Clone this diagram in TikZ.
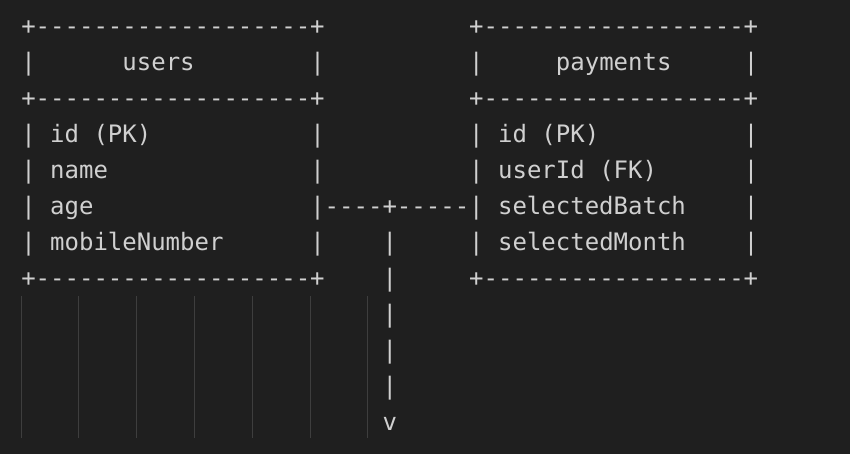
\documentclass[tikz,border=0pt]{standalone}
\usepackage{fontspec}
\setmonofont{DejaVu Sans Mono}
\usepackage{tikz}
\usetikzlibrary{positioning}
\definecolor{editorbg}{HTML}{1F1F1F}
\definecolor{asciifg}{HTML}{D0D0D0}
\definecolor{guidegray}{HTML}{3E3E3E}
\begin{document}
\begin{tikzpicture}[x=0.75pt,y=-0.75pt]
                \tikzstyle{ascii}=[anchor=base west, inner sep=0pt, text=asciifg, font=\ttfamily\fontsize{18}{18}\selectfont]
                \fill [editorbg] (0,0) rectangle (850,454);
                \useasboundingbox (0,0) rectangle (850,454);
                % indent guides
                \foreach \gx in {21,78.8,136.6,194.4,252.2,310,367.8}
                    \draw [guidegray, line width=0.75pt] (\gx,296) -- (\gx,438);
                % users table
                \node [ascii] (usersTop) at (21,34) {+-------------------+};
                \node [ascii] (usersL1) at (21,70) {|};
                \node [ascii] (usersName) at (122.15,70) {users};
                \node [ascii] (usersR1) at (310,70) {|};
                \node [ascii] (usersMid) at (21,106) {+-------------------+};
                \node [ascii] (usersId) at (21,142) {| id (PK)};
                \node [ascii] (usersR3) at (310,142) {|};
                \node [ascii] (usersNm) at (21,178) {| name};
                \node [ascii] (usersR4) at (310,178) {|};
                \node [ascii] (usersAge) at (21,214) {| age};
                \node [ascii] (usersMob) at (21,250) {| mobileNumber};
                \node [ascii] (usersR6) at (310,250) {|};
                \node [ascii] (usersBot) at (21,286) {+-------------------+};
                % payments table
                \node [ascii] (payTop) at (468.95,34) {+------------------+};
                \node [ascii] (payL1) at (468.95,70) {|};
                \node [ascii] (payName) at (555.65,70) {payments};
                \node [ascii] (payR1) at (743.5,70) {|};
                \node [ascii] (payMid) at (468.95,106) {+------------------+};
                \node [ascii] (payId) at (468.95,142) {| id (PK)};
                \node [ascii] (payR3) at (743.5,142) {|};
                \node [ascii] (payUser) at (468.95,178) {| userId (FK)};
                \node [ascii] (payR4) at (743.5,178) {|};
                \node [ascii] (payR5) at (743.5,214) {|};
                \node [ascii] (payMonth) at (468.95,250) {| selectedMonth};
                \node [ascii] (payR6) at (743.5,250) {|};
                \node [ascii] (payBot) at (468.95,286) {+------------------+};
                % link and arrow
                \node [ascii] (link) at (310,214) {|----+-----| selectedBatch};
                \node [ascii] (arrow1) at (382.25,250) {|};
                \node [ascii] (arrow2) at (382.25,286) {|};
                \node [ascii] (arrow3) at (382.25,322) {|};
                \node [ascii] (arrow4) at (382.25,358) {|};
                \node [ascii] (arrow5) at (382.25,394) {|};
                \node [ascii] (arrowHead) at (382.25,430) {v};
            \end{tikzpicture}
\end{document}
